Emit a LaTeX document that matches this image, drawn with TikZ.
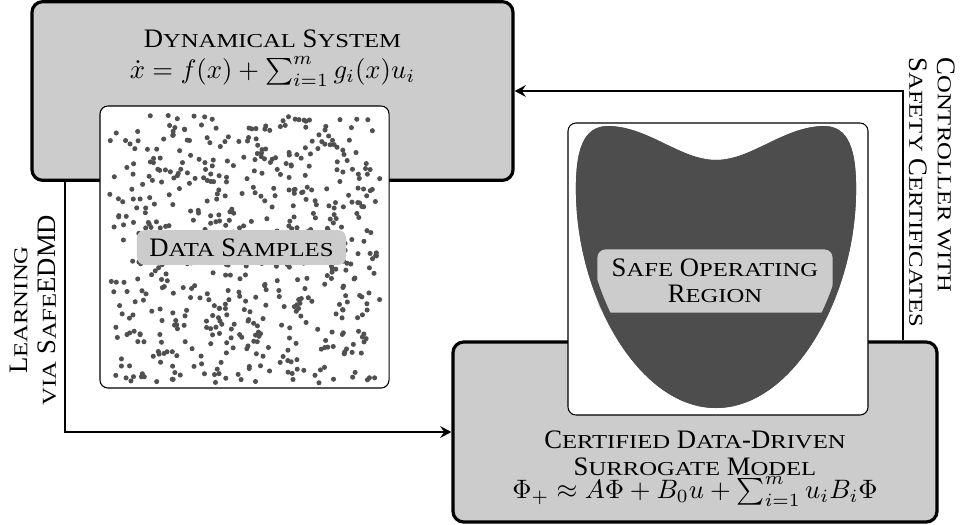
\documentclass[tikz,border=0pt]{standalone}
\usepackage[no-math]{fontspec}
\setmainfont{Liberation Serif}
\newfontfamily\scwide[FakeStretch=1.25]{Liberation Serif}
\usetikzlibrary{arrows.meta}
\definecolor{boxgray}{RGB}{204,204,204}
\definecolor{darkc}{RGB}{77,77,77}
\definecolor{dotc}{RGB}{80,80,80}
\definecolor{faintgray}{RGB}{232,232,232}
% small capitals built from scaled, widened capitals
\newcommand\smc[1]{{\scwide\fontsize{7.4pt}{8pt}\selectfont #1}}
\newcommand\mathsz{\fontsize{10.4pt}{12pt}\selectfont}
% outline of the safe operating region
\newcommand\safeoutline{(716,408) .. controls (640,408) and (578,300) .. (576,195)
  .. controls (575,148) and (584,127) .. (607,126)
  .. controls (648,126) and (680,160) .. (716,160)
  .. controls (752,160) and (784,126) .. (825,126)
  .. controls (848,127) and (857,148) .. (856,195)
  .. controls (854,300) and (792,408) .. (716,408) -- cycle}
\begin{document}
\begin{tikzpicture}[x=0.375pt,y=-0.375pt,
  bigbox/.style={draw=black, line width=1.2pt, fill=boxgray, rounded corners=4pt, inner sep=0pt},
  panel/.style={draw=black, line width=0.4pt, fill=white, rounded corners=3pt, inner sep=0pt},
  tag/.style={fill=boxgray, rounded corners=3pt, inner sep=0pt},
  flow/.style={line width=0.9pt, -{Stealth[length=4.2pt,width=4.4pt,inset=1.5pt]}},
  txt/.style={inner sep=0pt, anchor=base, font=\fontsize{10pt}{12pt}\selectfont},
  side/.style={inner sep=0pt, font=\fontsize{10pt}{10.7pt}\selectfont}]
\useasboundingbox (0,0) rectangle (961,525);

% main blocks
\node[bigbox, minimum width=180.4pt, minimum height=67pt] (sys) at (272.5,91) {};
\node[bigbox, minimum width=181.5pt, minimum height=67.5pt] (model) at (695,432) {};

% titles and equations
\node[txt] (systitle) at (272.5,47) {D\smc{YNAMICAL} S\smc{YSTEM}};
\node[txt, font=\mathsz] (sysode) at (272.5,78) {$\dot x = f(x) + \sum_{i=1}^m g_i(x) u_i$};
\node[txt] (mt1) at (695,448) {C\smc{ERTIFIED} D\smc{ATA}-D\smc{RIVEN}};
\node[txt] (mt2) at (695,475) {S\smc{URROGATE} M\smc{ODEL}};
\node[txt, font=\mathsz] (mt3) at (695,498) {$\Phi_+ \approx A\Phi + B_0 u + \sum_{i=1}^m u_i B_i \Phi$};

% inset panels
\node[panel, minimum width=108.4pt, minimum height=105.75pt] (data) at (244.5,247) {};
\node[panel, minimum width=112.5pt, minimum height=109.5pt] (safe) at (718,269) {};

% scattered samples
\pgfmathsetseed{2024}
\foreach \k in {1,...,600}{
  \pgfmathsetmacro\px{109+271*rnd}
  \pgfmathsetmacro\py{115+268*rnd}
  \fill[dotc] (\px,\py) circle (0.95pt);
}
\node[tag, minimum width=78.4pt, minimum height=13.1pt, font=\fontsize{10pt}{12pt}\selectfont] (datatag) at (241.5,247.5) {D\smc{ATA} S\smc{AMPLES}};

% safe operating region
\node[tag, fill=faintgray, minimum width=87.75pt, minimum height=23.25pt] (safetag) at (715,281) {};
\fill[darkc] \safeoutline;
\begin{scope}
  \clip \safeoutline;
  \fill[boxgray, rounded corners=3pt] (safetag.north west) rectangle (safetag.south east);
  \draw[darkc, line width=5pt] \safeoutline;
\end{scope}
\node[inner sep=0pt, align=center, font=\fontsize{10pt}{9.75pt}\selectfont] (safetxt) at (715,281) {S\smc{AFE} O\smc{PERATING}\\R\smc{EGION}};

% feedback loop
\coordinate (lcol) at (65,0);
\coordinate (rcol) at (903,0);
\draw[flow] (sys.south -| lcol) |- (model.west);
\draw[flow] (model.north -| rcol) |- (sys.east);

% loop labels
\node[side, rotate=90, align=center] (learn) at (33,310) {L\smc{EARNING}\\\smc{VIA} S\smc{AFE}EDMD};
\node[side, rotate=-90, align=left, anchor=north west] (ctrl) at (956,57) {C\smc{ONTROLLER WITH}\\S\smc{AFETY} C\smc{ERTIFICATES}};
\end{tikzpicture}
\end{document}
